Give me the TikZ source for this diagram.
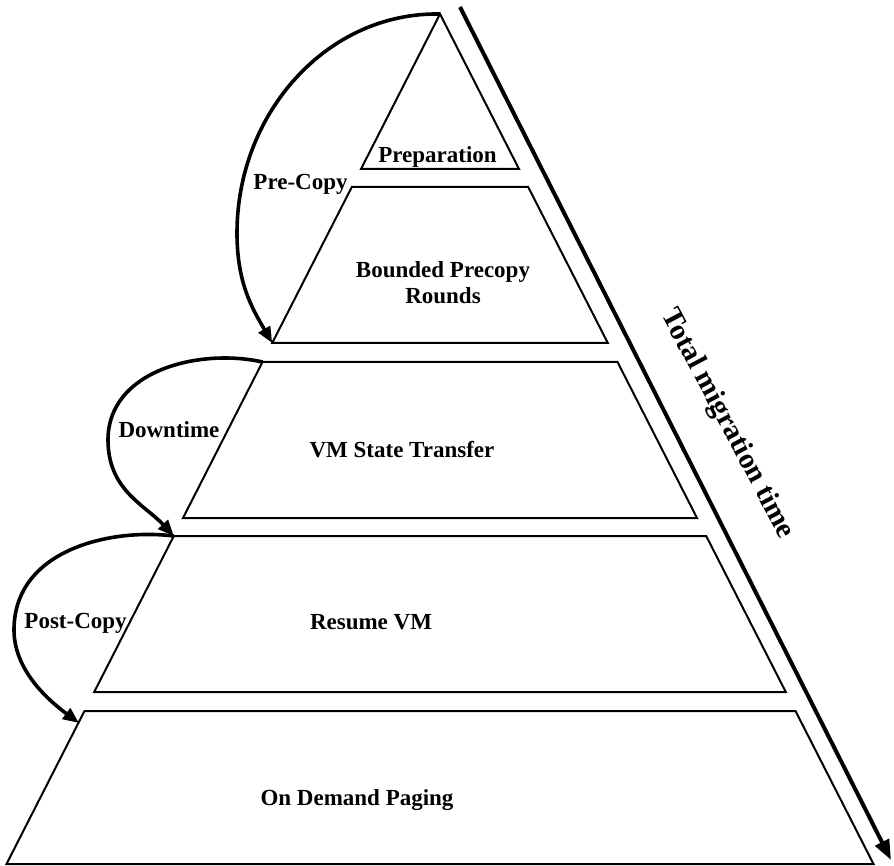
\documentclass[tikz,border=0pt]{standalone}
\usepackage{fontspec}
\setmainfont{Liberation Serif}
\usetikzlibrary{arrows.meta}
\begin{document}
\begin{tikzpicture}[x=1pt,y=-1pt,
  layer/.style={draw=black, line width=2pt, line join=miter},
  lbl/.style={font=\fontsize{23}{26}\selectfont\bfseries, align=center, inner sep=0pt},
  phase/.style={line width=3.6pt, -{Triangle[length=16pt,width=13pt]}},
  timeline/.style={line width=4pt, -{Triangle[length=20pt,width=15pt]}}]
\useasboundingbox (0,0) rectangle (894,866);

% corners of the pyramid layers
\coordinate (apex) at (440,14);
\coordinate (p0l) at (361,169);   \coordinate (p0r) at (519,169);
\coordinate (a1l) at (351.8,187); \coordinate (a1r) at (528.2,187);
\coordinate (b1l) at (272.2,343); \coordinate (b1r) at (607.8,343);
\coordinate (a2l) at (262.5,362); \coordinate (a2r) at (617.5,362);
\coordinate (b2l) at (183,518);   \coordinate (b2r) at (697,518);
\coordinate (a3l) at (173.8,536); \coordinate (a3r) at (706.2,536);
\coordinate (b3l) at (94.2,692);  \coordinate (b3r) at (785.8,692);
\coordinate (a4l) at (84.5,711);  \coordinate (a4r) at (795.5,711);
\coordinate (b4l) at (6.5,864);   \coordinate (b4r) at (873.5,864);
\coordinate (pcend) at (79,723);

% layers
\draw[layer] (apex) -- (p0r) -- (p0l) -- cycle;
\draw[layer] (a1l) -- (a1r) -- (b1r) -- (b1l) -- cycle;
\draw[layer] (a2l) -- (a2r) -- (b2r) -- (b2l) -- cycle;
\draw[layer] (a3l) -- (a3r) -- (b3r) -- (b3l) -- cycle;
\draw[layer] (a4l) -- (a4r) -- (b4r) -- (b4l) -- cycle;

% layer labels
\node[lbl, anchor=base] (prep) at (437.5,163) {Preparation};
\node[lbl] (bounded) at (443,283) {Bounded Precopy\\Rounds};
\node[lbl] (vmst) at (402,450) {VM State Transfer};
\node[lbl] (resume) at (371,622) {Resume VM};
\node[lbl] (odp) at (357,800) {On Demand Paging};

% phase arcs
\coordinate (c1) at (237,233);
\coordinate (c2) at (108,440);
\coordinate (c3) at (14,630);
\draw[phase] (apex) .. controls (327,12) and (237,113) .. (c1)
  .. controls (237,283) and (252,308) .. (b1l);
\draw[phase] (a2l) .. controls (200,348) and (108,370) .. (c2)
  .. controls (108,490) and (145,505) .. (a3l);
\draw[phase] (a3l) .. controls (110,528) and (14,550) .. (c3)
  .. controls (14,670) and (48,700) .. (pcend);

\node[lbl, anchor=base] (precopy) at (300.5,190) {Pre-Copy};
\node[lbl, anchor=base] (downtime) at (169,437) {Downtime};
\node[lbl, anchor=base] (postcopy) at (75.6,628) {Post-Copy};

% total time axis
\coordinate (tstart) at (460,7);
\coordinate (tend) at (891,860);
\draw[timeline] (tstart) -- (tend);
\node[font=\fontsize{29}{32}\selectfont\bfseries, rotate=-62, inner sep=0pt] (total) at (727,424) {Total migration time};
\end{tikzpicture}
\end{document}
